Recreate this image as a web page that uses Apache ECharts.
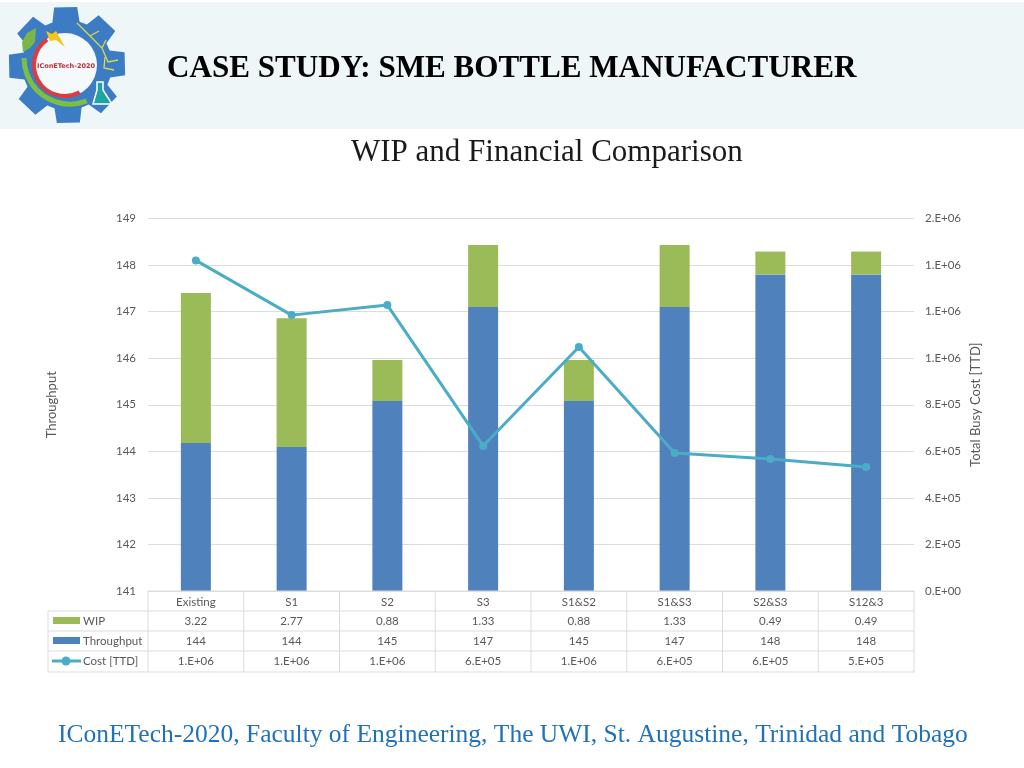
<!DOCTYPE html>
<html><head><meta charset="utf-8">
<style>html,body{margin:0;padding:0;background:#fff}#c{width:1024px;height:768px}</style>
<script src="https://cdn.jsdelivr.net/npm/echarts@6/dist/echarts.min.js"></script>
</head><body><div id="c"></div>
<script>
const categories=['Existing','S1','S2','S3','S1&S2','S1&S3','S2&S3','S12&3'];
const throughput=[144.18,144.09,145.08,147.1,145.08,147.1,147.8,147.8];
const wip=[3.22,2.77,0.88,1.33,0.88,1.33,0.49,0.49];
const cost=[1.42e6,1.185e6,1.228e6,6.23e5,1.048e6,5.93e5,5.67e5,5.33e5];
const wipLabels=['3.22','2.77','0.88','1.33','0.88','1.33','0.49','0.49'];
const throughputLabels=['144','144','145','147','145','147','148','148'];
const costLabels=['1.E+06','1.E+06','1.E+06','6.E+05','1.E+06','6.E+05','6.E+05','5.E+05'];
const rightTicks=['0.E+00','2.E+05','4.E+05','6.E+05','8.E+05','1.E+06','1.E+06','1.E+06','2.E+06'];
const rowNames=['WIP','Throughput','Cost [TTD]'];
const font='Lato';const grey='#595959';const lineC='#dcdcdc';
const BLUE='#4f81bd',GREEN='#9bbb59',TEAL='#4bacc6';
const chart=echarts.init(document.getElementById('c'),null,{renderer:'canvas'});
const G={l:148,r:110,t:218.5,b:177};
chart.setOption({
 animation:false,backgroundColor:'#fff',
 grid:{left:G.l,right:G.r,top:G.t,bottom:G.b},
 xAxis:{type:'category',data:categories,axisTick:{show:false},
   axisLine:{lineStyle:{color:lineC}},
   axisLabel:{color:grey,fontFamily:font,fontSize:11.5,margin:5,interval:0}},
 yAxis:[
  {type:'value',min:141,max:149,interval:1,name:'Throughput',nameLocation:'middle',nameGap:90,nameRotate:90,
   nameTextStyle:{color:grey,fontFamily:font,fontSize:13},
   axisLabel:{color:grey,fontFamily:font,fontSize:11.5,margin:12},
   axisLine:{show:false},axisTick:{show:false},splitLine:{lineStyle:{color:lineC}}},
  {type:'value',min:0,max:1600000,interval:200000,name:'Total Busy Cost [TTD]',nameLocation:'middle',nameGap:55,nameRotate:90,nameMoveOverlap:false,
   nameTextStyle:{color:grey,fontFamily:font,fontSize:13},
   axisLabel:{color:grey,fontFamily:font,fontSize:11.5,margin:11,formatter:(v)=>rightTicks[Math.round(v/200000)]},
   axisLine:{show:false},axisTick:{show:false},splitLine:{show:false}}
 ],
 series:[
  {name:'Throughput',type:'bar',stack:'a',data:throughput,barWidth:30,itemStyle:{color:BLUE}},
  {name:'WIP',type:'bar',stack:'a',data:wip,barWidth:30,itemStyle:{color:GREEN}},
  {name:'Cost [TTD]',type:'line',yAxisIndex:1,data:cost,symbol:'circle',symbolSize:8,
   lineStyle:{color:TEAL,width:3},itemStyle:{color:TEAL}}
 ]
});
// table and decoration
const left=G.l,right=1024-G.r,colW=(right-left)/categories.length;
const rowY=[591,611,631,651,672];
const els=[];
const ln=(x1,y1,x2,y2)=>els.push({type:'line',silent:true,z:5,shape:{x1,y1,x2,y2},style:{stroke:lineC,lineWidth:1}});
const txt=(x,y,text,o)=>els.push({type:'text',silent:true,z:6,x,y,style:Object.assign({text,fill:grey,font:'11.5px '+font,textAlign:'center',textVerticalAlign:'middle'},o||{})});
rowY.forEach((y,i)=>ln(i===0?left:48,y,right,y));
for(let i=0;i<=categories.length;i++)ln(left+i*colW,591,left+i*colW,672);
ln(48,611,48,672);
[wipLabels,throughputLabels,costLabels].forEach((arr,r)=>{
  const y=(rowY[r+1]+rowY[r+2])/2;
  arr.forEach((t,i)=>txt(chart.convertToPixel({xAxisIndex:0},categories[i]),y,t));
  txt(83,y,rowNames[r],{textAlign:'left'});
});
els.push({type:'rect',silent:true,z:6,shape:{x:53,y:617,width:27,height:7},style:{fill:GREEN}});
els.push({type:'rect',silent:true,z:6,shape:{x:53,y:637,width:27,height:7},style:{fill:BLUE}});
els.push({type:'line',silent:true,z:6,shape:{x1:52,y1:661,x2:81,y2:661},style:{stroke:TEAL,lineWidth:3}});
els.push({type:'circle',silent:true,z:7,shape:{cx:66,cy:661,r:4.5},style:{fill:TEAL}});
// header band
els.push({type:'rect',silent:true,z:0,shape:{x:0,y:2,width:1024,height:127},style:{fill:'#eef6f8'}});
// titles
const serif='"Liberation Serif"';
txt(167,69,'CASE STUDY: SME BOTTLE MANUFACTURER',{textAlign:'left',font:'bold 31.1px '+serif,fill:'#000'});
txt(351,153,'WIP and Financial Comparison',{textAlign:'left',font:'31px '+serif,fill:'#1a1a1a'});
txt(58,735,'IConETech-2020, Faculty of Engineering, The UWI, St. Augustine, Trinidad and Tobago',{textAlign:'left',font:'25.5px '+serif,fill:'#1f72b8'});
// logo gear
const cx=67,cy=65,teeth=8,ro=59,ri=45;
let pts=[];
for(let i=0;i<teeth;i++){
  const a=(i/teeth)*Math.PI*2-Math.PI/2,w=Math.PI*2/teeth;
  [[-.42,ri],[-.28,ro],[.22,ro],[.36,ri]].forEach(p=>{const t=a+p[0]*w;pts.push([cx+p[1]*Math.cos(t),cy+p[1]*Math.sin(t)]);});
}
els.push({type:'polygon',silent:true,z:2,shape:{points:pts},style:{fill:'#3b7cc4'}});
els.push({type:'circle',silent:true,z:3,shape:{cx:65,cy:65,r:32},style:{fill:'#f4f9fb'}});
els.push({type:'arc',silent:true,z:4,shape:{cx:65,cy:65,r:31,startAngle:1.08,endAngle:4.1,clockwise:true},style:{stroke:'#e03a3e',lineWidth:4,fill:'none'}});
els.push({type:'arc',silent:true,z:4,shape:{cx:70,cy:58,r:46,startAngle:1.2,endAngle:3.14,clockwise:true},style:{stroke:'#7cc043',lineWidth:5,fill:'none'}});
els.push({type:'polygon',silent:true,z:4,shape:{points:[[23,52],[22,42],[27,33],[36,28],[35,42],[30,48]]},style:{fill:'#7ab648'}});
els.push({type:'polygon',silent:true,z:4,shape:{points:[[46,31],[52,34],[56,31],[60,38],[65,47],[56,40],[50,41]]},style:{fill:'#f5c518'}});
els.push({type:'polygon',silent:true,z:4,shape:{points:[[97,82],[103,82],[103,90],[112,104],[93,104],[97,90]]},style:{fill:'#1fa5a0',stroke:'#fff',lineWidth:1.5}});
[[[77,23],[90,36],[102,48],[108,62],[118,60]],[[90,36],[99,31]],[[102,48],[106,40]],[[105,57],[104,68],[114,70]]].forEach(p=>
  els.push({type:'polyline',silent:true,z:4,shape:{points:p},style:{stroke:'#d9d94a',lineWidth:1.3,fill:'none'}}));
txt(66,66,'IConETech-2020',{font:'bold 6.5px "DejaVu Sans"',fill:'#b5323a'});
chart.setOption({graphic:{elements:els}});
</script></body></html>
